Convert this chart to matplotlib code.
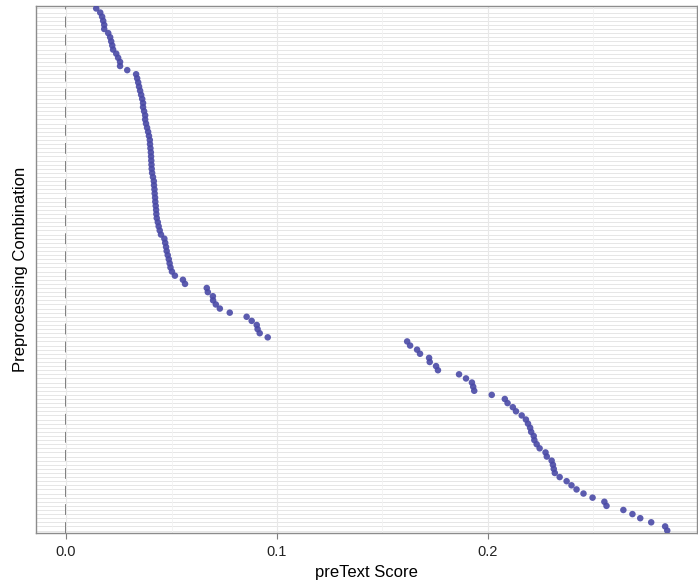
import numpy as np
import matplotlib
matplotlib.use("Agg")
import matplotlib.pyplot as plt
from matplotlib.ticker import MultipleLocator

plt.rcParams['font.family'] = ['Liberation Sans', 'DejaVu Sans']

# preText scores, one per preprocessing combination (top row first)
scores_top = [
    0.0143, 0.0162, 0.0171, 0.0176, 0.0181, 0.0181, 0.0200, 0.0209,
    0.0214, 0.0219, 0.0223, 0.0238, 0.0247, 0.0256, 0.0256, 0.0290,
    0.0332, 0.0337, 0.0342, 0.0346, 0.0351, 0.0356, 0.0361, 0.0365,
    0.0365, 0.0370, 0.0375, 0.0375, 0.0379, 0.0384, 0.0389,
]
scores_mid = [
    0.0393, 0.0397, 0.0398, 0.0400, 0.0402, 0.0403, 0.0404, 0.0405,
    0.0406, 0.0408, 0.0412, 0.0416, 0.0417, 0.0419, 0.0420, 0.0422,
    0.0423, 0.0425, 0.0427, 0.0428, 0.0430, 0.0435, 0.0439, 0.0444,
    0.0450, 0.0466, 0.0470, 0.0474, 0.0477, 0.0482, 0.0487, 0.0491,
    0.0495,
]
scores_gap = [
    0.0502, 0.0516, 0.0554, 0.0564, 0.0667, 0.0672, 0.0696, 0.0697,
    0.0710, 0.0729, 0.0776, 0.0856, 0.0880, 0.0904, 0.0908, 0.0918,
    0.0956,
]
scores_high = [
    0.1617, 0.1631, 0.1664, 0.1678, 0.1721, 0.1724, 0.1754, 0.1763,
    0.1863, 0.1896, 0.1924, 0.1930, 0.1935, 0.2018, 0.2080, 0.2093,
    0.2118, 0.2133, 0.2160, 0.2180, 0.2190, 0.2200, 0.2205,
]
scores_tail = [
    0.2217, 0.2220, 0.2231, 0.2245, 0.2273, 0.2279, 0.2302, 0.2308,
    0.2312, 0.2317, 0.2340, 0.2373, 0.2396, 0.2420, 0.2453, 0.2496,
    0.2552, 0.2562, 0.2642, 0.2685, 0.2722, 0.2774, 0.2840, 0.2850,
]

x_ticks = [0.0, 0.1, 0.2]
x_tick_labels = ["0.0", "0.1", "0.2"]


def main():
    scores = np.array(scores_top + scores_mid + scores_gap + scores_high + scores_tail)
    n = len(scores)
    # first combination on top
    rows = np.arange(n)[::-1]

    fig = plt.figure(figsize=(6.98, 5.81), dpi=100)
    ax = fig.add_axes([36 / 698, 1 - 533 / 581, 1 - 36 / 698 - 0.001, 527 / 581])

    lo, hi = 0.0, scores.max()
    pad = 0.05 * (hi - lo)
    ax.set_xlim(lo - pad, hi + pad)
    ax.set_ylim(-0.6, n - 1 + 0.6)

    # grid
    for r in rows:
        ax.axhline(r, color="#e6e6e6", lw=0.7, zorder=0)
    ax.xaxis.set_minor_locator(MultipleLocator(0.05))
    ax.grid(axis="x", which="major", color="#e8e8e8", lw=0.8, zorder=0)
    ax.grid(axis="x", which="minor", color="#f2f2f2", lw=0.6, zorder=0)

    ax.axvline(0, color="#707070", lw=1.3, ls=(0, (6, 4)), zorder=1)
    ax.scatter(scores, rows, s=22, color="#4a4aa6", alpha=0.9,
               edgecolors="none", zorder=3)

    ax.set_xticks(x_ticks)
    ax.set_xticklabels(x_tick_labels)
    ax.set_yticks([])
    ax.tick_params(axis="x", which="major", length=4, color="#7f7f7f",
                   labelsize=10.5, labelcolor="#222222", pad=5)
    ax.tick_params(axis="x", which="minor", length=0)
    for sp in ax.spines.values():
        sp.set_color("#8c8c8c")
        sp.set_linewidth(1.0)

    ax.set_xlabel("preText Score", fontsize=12, labelpad=4)
    ax.set_ylabel("Preprocessing Combination", fontsize=12, labelpad=6)

    fig.savefig("out.png", dpi=100)


if __name__ == '__main__':
    main()
